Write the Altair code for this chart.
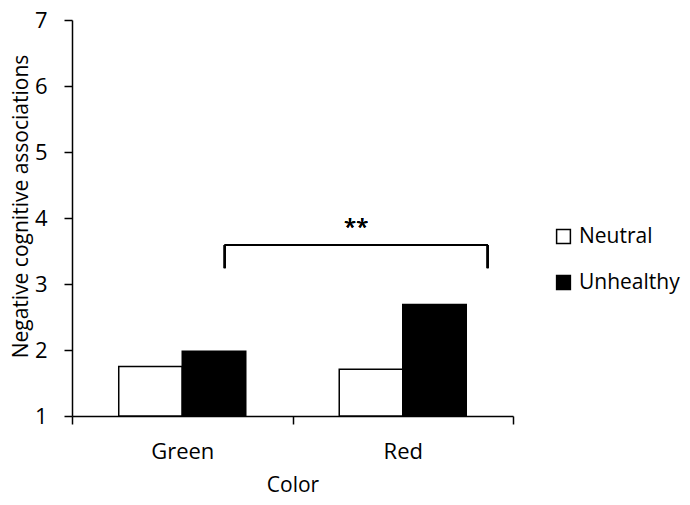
import altair as alt
import pandas as pd

# ---- data ----
colors = ["Green", "Green", "Red", "Red"]
conditions = ["Neutral", "Unhealthy", "Neutral", "Unhealthy"]
values = [1.75, 1.98, 1.71, 2.69]
baseline = 1
y_ticks = [1, 2, 3, 4, 5, 6, 7]
cond_domain = ["Neutral", "Unhealthy"]
cond_fill = ["white", "black"]

# significance bracket (Green-Unhealthy vs Red-Unhealthy)
bracket_left_cat = "Green"
bracket_right_cat = "Red"
bracket_y = 3.59
bracket_tip_y = 3.24
star_y = 3.86
star_label = "**"

FONT = "Open Sans"

df = pd.DataFrame({"Color": colors, "Condition": conditions,
                   "Value": values, "Base": [baseline] * len(values)})

x_scale = alt.Scale(domain=["Green", "Red"], paddingInner=0, paddingOuter=0)
y_scale = alt.Scale(domain=[1, 7], nice=False, zero=False)

bars = alt.Chart(df).mark_bar(stroke="black", strokeWidth=1.5).encode(
    x=alt.X("Color:N", scale=x_scale, sort=["Green", "Red"],
            axis=alt.Axis(title="Color", labelAngle=0, tickBand="extent",
                          tickSize=8, labelPadding=27, labelBaseline="middle",
                          labelFontSize=22,
                          titleY=69, titleBaseline="middle")),
    xOffset=alt.XOffset("Condition:N",
                        scale=alt.Scale(domain=cond_domain, paddingInner=0, paddingOuter=0.736)),
    y=alt.Y("Value:Q", scale=y_scale,
            axis=alt.Axis(values=y_ticks, format="d", title="Negative cognitive associations",
                          tickSize=8, labelPadding=17, grid=False, labelFontSize=22,
                          titleAngle=-90, titleX=-51, titleY=186,
                          titleAlign="center", titleBaseline="middle")),
    y2="Base:Q",
    fill=alt.Fill("Condition:N", scale=alt.Scale(domain=cond_domain, range=cond_fill),
                  legend=alt.Legend(title=None, orient="none", legendX=481, legendY=206,
                                    symbolType="square", symbolSize=190,
                                    symbolStrokeColor="black", symbolStrokeWidth=1.5,
                                    labelFontSize=21, labelFont=FONT, labelColor="black",
                                    labelOffset=5, rowPadding=24)),
)

hbar = alt.Chart(df).mark_rule(color="black", strokeWidth=2).encode(
    x=alt.XDatum(bracket_left_cat, type="nominal", bandPosition=0.6925),
    x2=alt.X2Datum(bracket_right_cat, bandPosition=0.885),
    y=alt.YDatum(bracket_y, type="quantitative"),
)
left_tip = alt.Chart(df).mark_rule(color="black", strokeWidth=2).encode(
    x=alt.XDatum(bracket_left_cat, type="nominal", bandPosition=0.6925),
    y=alt.YDatum(bracket_tip_y, type="quantitative"),
    y2=alt.Y2Datum(bracket_y),
)
right_tip = alt.Chart(df).mark_rule(color="black", strokeWidth=2).encode(
    x=alt.XDatum(bracket_right_cat, type="nominal", bandPosition=0.885),
    y=alt.YDatum(bracket_tip_y, type="quantitative"),
    y2=alt.Y2Datum(bracket_y),
)
stars = alt.Chart(df).mark_text(font=FONT, fontSize=22, color="black",
                                baseline="middle", align="center").encode(
    x=alt.XDatum(bracket_right_cat, type="nominal", bandPosition=0.289),
    y=alt.YDatum(star_y, type="quantitative"),
    text=alt.TextValue(star_label),
)

chart = alt.layer(bars, hbar, left_tip, right_tip, stars).properties(
    width=441, height=396,
    autosize=alt.AutoSizeParams(type="none"),
    padding={"left": 64, "top": 12, "right": 169, "bottom": 81},
    background="white",
).configure_view(stroke=None).configure_axis(
    domainColor="black", domainWidth=1.5, tickColor="black", tickWidth=1.5,
    labelFont=FONT, labelColor="black",
    titleFont=FONT, titleFontSize=21, titleColor="black", titleFontWeight="normal",
)

chart.save("out.html", embed_options={"renderer": "svg", "actions": False})
